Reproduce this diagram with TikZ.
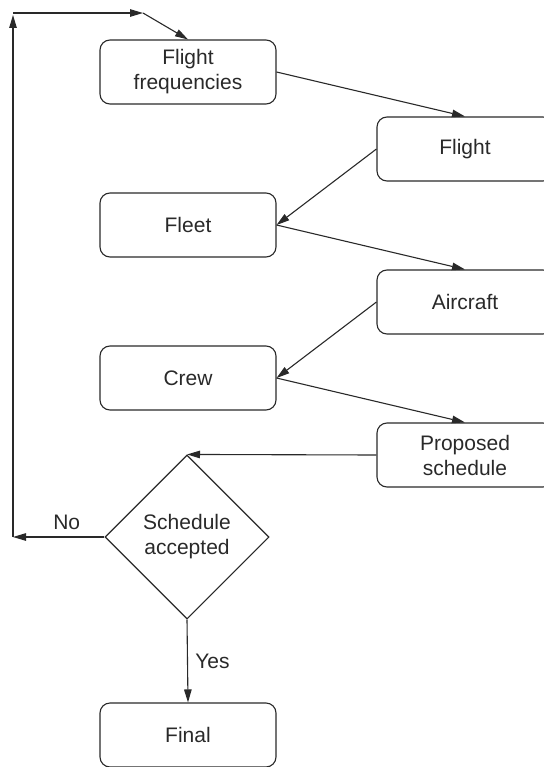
\documentclass[tikz,border=0pt]{standalone}
\usepackage{fontspec}
\setmainfont{Liberation Sans}
\usepackage{xcolor}
\usepackage{tikz}
\usetikzlibrary{arrows.meta, positioning, shapes.geometric}

\definecolor{ink}{rgb}{0.16,0.16,0.16}

\begin{document}
\begin{tikzpicture}[x=1pt, y=-1pt,
    every node/.style={text=ink, font=\fontsize{21}{25}\selectfont},
    box/.style={draw=ink, line width=1.1pt, rounded corners=10pt, minimum width=176pt, minimum height=64pt, align=center, inner sep=0pt},
    decision/.style={draw=ink, line width=1.1pt, diamond, minimum width=164pt, minimum height=164pt, align=center, inner sep=0pt},
    arrow/.style={draw=ink, line width=1.1pt, -{Triangle[length=13pt, width=7.5pt]}}]
    \useasboundingbox (0,0) rectangle (543,767);

    % the steps
    \node[box] (freq) at (188, 72) {Flight\\frequencies};
    \node[box] (flight) at (465, 149) {Flight};
    \node[box] (fleet) at (188, 225) {Fleet};
    \node[box] (aircraft) at (465, 302) {Aircraft};
    \node[box] (crew) at (188, 378) {Crew};
    \node[box] (proposed) at (465, 455) {Proposed\\schedule};
    \node[decision] (accepted) at (187, 537) {Schedule\\accepted};
    \node[box] (final) at (188, 735) {Final};

    % loop back corners
    \coordinate (noend) at (13, 537);
    \coordinate (upend) at (13, 15);
    \coordinate (topleft) at (13, 13);
    \coordinate (bend) at (143, 13);

    \draw[arrow] (freq.east) -- (flight.north);
    \draw[arrow] (flight.west) -- (fleet.east);
    \draw[arrow] (fleet.east) -- (aircraft.north);
    \draw[arrow] (aircraft.west) -- (crew.east);
    \draw[arrow] (crew.east) -- (proposed.north);
    \draw[arrow] (proposed.west) -- (accepted.north);
    \draw[arrow] (accepted.south) -- node[right=4pt] {Yes} (final.north);
    \draw[arrow] (accepted.west) -- node[above=3pt, xshift=8pt] {No} (noend);
    \draw[arrow] (noend) -- (upend);
    \draw[arrow] (topleft) -- (bend);
    \draw[arrow] (bend) -- (freq.north);
\end{tikzpicture}
\end{document}
